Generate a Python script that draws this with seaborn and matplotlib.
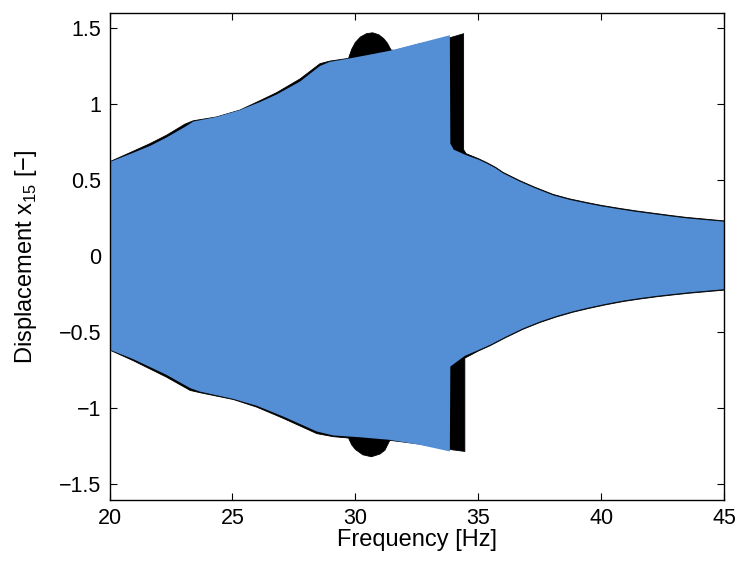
import numpy as np
import matplotlib
matplotlib.use("Agg")
import matplotlib.pyplot as plt
import seaborn as sns

# Response envelope of x15 during the frequency sweep (two runs)
# Run drawn in black: sweep reaching the higher jump frequency
black_up_f = [20.0, 20.97, 21.65, 22.32, 23.07, 23.41, 24.35, 25.30, 26.12, 26.8,
              27.75, 28.56, 28.96, 29.72, 29.85, 30.0, 30.2, 30.45, 30.7, 30.95,
              31.15, 31.3, 31.45, 31.6, 32.6, 33.84, 34.40, 34.40, 34.5, 35.0,
              35.33, 35.7, 36.0, 36.69, 37.3, 38.04, 38.7, 39.4, 40.0, 40.75,
              41.4, 42.1, 42.8, 43.46, 44.2, 45.0]
black_up_v = [0.62, 0.69, 0.74, 0.795, 0.868, 0.89, 0.915, 0.96, 1.022, 1.075,
              1.165, 1.265, 1.282, 1.30, 1.36, 1.405, 1.44, 1.462, 1.468, 1.455,
              1.43, 1.40, 1.355, 1.352, 1.395, 1.435, 1.462, 0.70, 0.674, 0.641,
              0.616, 0.584, 0.551, 0.496, 0.453, 0.406, 0.377, 0.353, 0.334, 0.314,
              0.298, 0.283, 0.268, 0.255, 0.244, 0.232]

black_lo_f = [20.0, 20.97, 22.32, 23.28, 23.68, 25.04, 25.99, 27.07, 28.43, 29.1,
              29.72, 29.85, 30.0, 30.3, 30.65, 31.0, 31.2, 31.4, 32.62, 33.84,
              34.45, 34.45, 35.0, 35.47, 36.1, 36.82, 37.5, 38.18, 38.85, 39.53,
              40.2, 40.89, 41.55, 42.24, 42.9, 43.6, 44.3, 45.0]
black_lo_v = [-0.616, -0.687, -0.795, -0.882, -0.897, -0.942, -0.992, -1.066, -1.166, -1.186,
              -1.195, -1.24, -1.27, -1.305, -1.318, -1.30, -1.275, -1.21, -1.235, -1.27,
              -1.283, -0.67, -0.623, -0.589, -0.536, -0.48, -0.436, -0.399, -0.368, -0.342,
              -0.319, -0.298, -0.282, -0.267, -0.255, -0.243, -0.233, -0.223]

# Run drawn in blue: sweep jumping down earlier
blue_up_f = [20.0, 20.03, 20.97, 21.65, 22.32, 23.07, 23.41, 24.35, 25.30, 26.12,
             26.8, 27.75, 28.56, 28.96, 29.78, 30.6, 31.40, 32.6, 33.84, 33.86,
             34.0, 34.5, 35.0, 35.33, 35.7, 36.0, 36.69, 37.3, 38.04, 38.7,
             39.4, 40.0, 40.75, 41.4, 42.1, 42.8, 43.46, 44.2, 45.0]
blue_up_v = [0.78, 0.62, 0.68, 0.725, 0.78, 0.85, 0.885, 0.915, 0.96, 1.013,
             1.063, 1.148, 1.25, 1.277, 1.30, 1.325, 1.35, 1.40, 1.452, 0.74,
             0.70, 0.664, 0.635, 0.61, 0.578, 0.545, 0.49, 0.447, 0.40, 0.371,
             0.347, 0.328, 0.308, 0.292, 0.277, 0.262, 0.249, 0.238, 0.227]

blue_lo_f = [20.0, 20.03, 20.97, 22.32, 23.28, 23.68, 25.04, 25.99, 27.07, 28.43,
             29.1, 30.2, 31.4, 32.62, 33.84, 33.86, 34.45, 35.0, 35.47, 36.1,
             36.82, 37.5, 38.18, 38.85, 39.53, 40.2, 40.89, 41.55, 42.24, 42.9,
             43.6, 44.3, 45.0]
blue_lo_v = [-0.76, -0.616, -0.677, -0.78, -0.867, -0.89, -0.938, -0.983, -1.054, -1.152,
             -1.178, -1.19, -1.207, -1.24, -1.283, -0.725, -0.655, -0.617, -0.583, -0.53,
             -0.474, -0.43, -0.393, -0.362, -0.336, -0.313, -0.292, -0.276, -0.261, -0.249,
             -0.237, -0.227, -0.217]

x_ticks = [20, 25, 30, 35, 40, 45]
y_ticks = [-1.5, -1, -0.5, 0, 0.5, 1, 1.5]
y_tick_labels = ["\u22121.5", "\u22121", "\u22120.5", "0", "0.5", "1", "1.5"]

BLUE = "#548ED5"

sns.set_theme(style="white")
plt.rcParams["font.family"] = ["Liberation Sans", "DejaVu Sans"]
plt.rcParams["axes.unicode_minus"] = True

fig = plt.figure(figsize=(7.42, 5.62), dpi=100)
ax = fig.add_axes([0.1476, 0.1109, 0.8285, 0.8665])


def envelope_fill(ax, up_f, up_v, lo_f, lo_v, color):
    # fill the region between upper and lower envelope as one polygon
    xs = list(up_f) + list(lo_f)[::-1]
    ys = list(up_v) + list(lo_v)[::-1]
    ax.fill(xs, ys, color=color, linewidth=0, zorder=2)


envelope_fill(ax, black_up_f, black_up_v, black_lo_f, black_lo_v, "black")
sns.lineplot(x=black_up_f, y=black_up_v, estimator=None, sort=False,
             color="black", linewidth=0.6, ax=ax, zorder=2)
sns.lineplot(x=black_lo_f, y=black_lo_v, estimator=None, sort=False,
             color="black", linewidth=0.6, ax=ax, zorder=2)
envelope_fill(ax, blue_up_f, blue_up_v, blue_lo_f, blue_lo_v, BLUE)

ax.set_xlim(20, 45)
ax.set_ylim(-1.6, 1.6)
ax.set_xticks(x_ticks)
ax.set_xticklabels([str(t) for t in x_ticks])
ax.set_yticks(y_ticks)
ax.set_yticklabels(y_tick_labels)

ax.tick_params(axis="both", which="major", direction="in", length=5, width=0.8,
               color="black", labelsize=15.5, labelcolor="black",
               top=True, right=True, bottom=True, left=True, pad=6)
for side in ax.spines.values():
    side.set_visible(True)
    side.set_color("black")
    side.set_linewidth(1.0)
    side.set_zorder(5)

ax.set_xlabel("Frequency [Hz]", fontsize=17, color="black", labelpad=0)
ax.set_ylabel("Displacement x$_{\\mathregular{15}}$ [\u2212]",
              fontsize=17, color="black", labelpad=14)
ax.grid(False)
ax.set_facecolor("white")
fig.patch.set_facecolor("white")

fig.savefig("out.png", dpi=100, facecolor="white")
